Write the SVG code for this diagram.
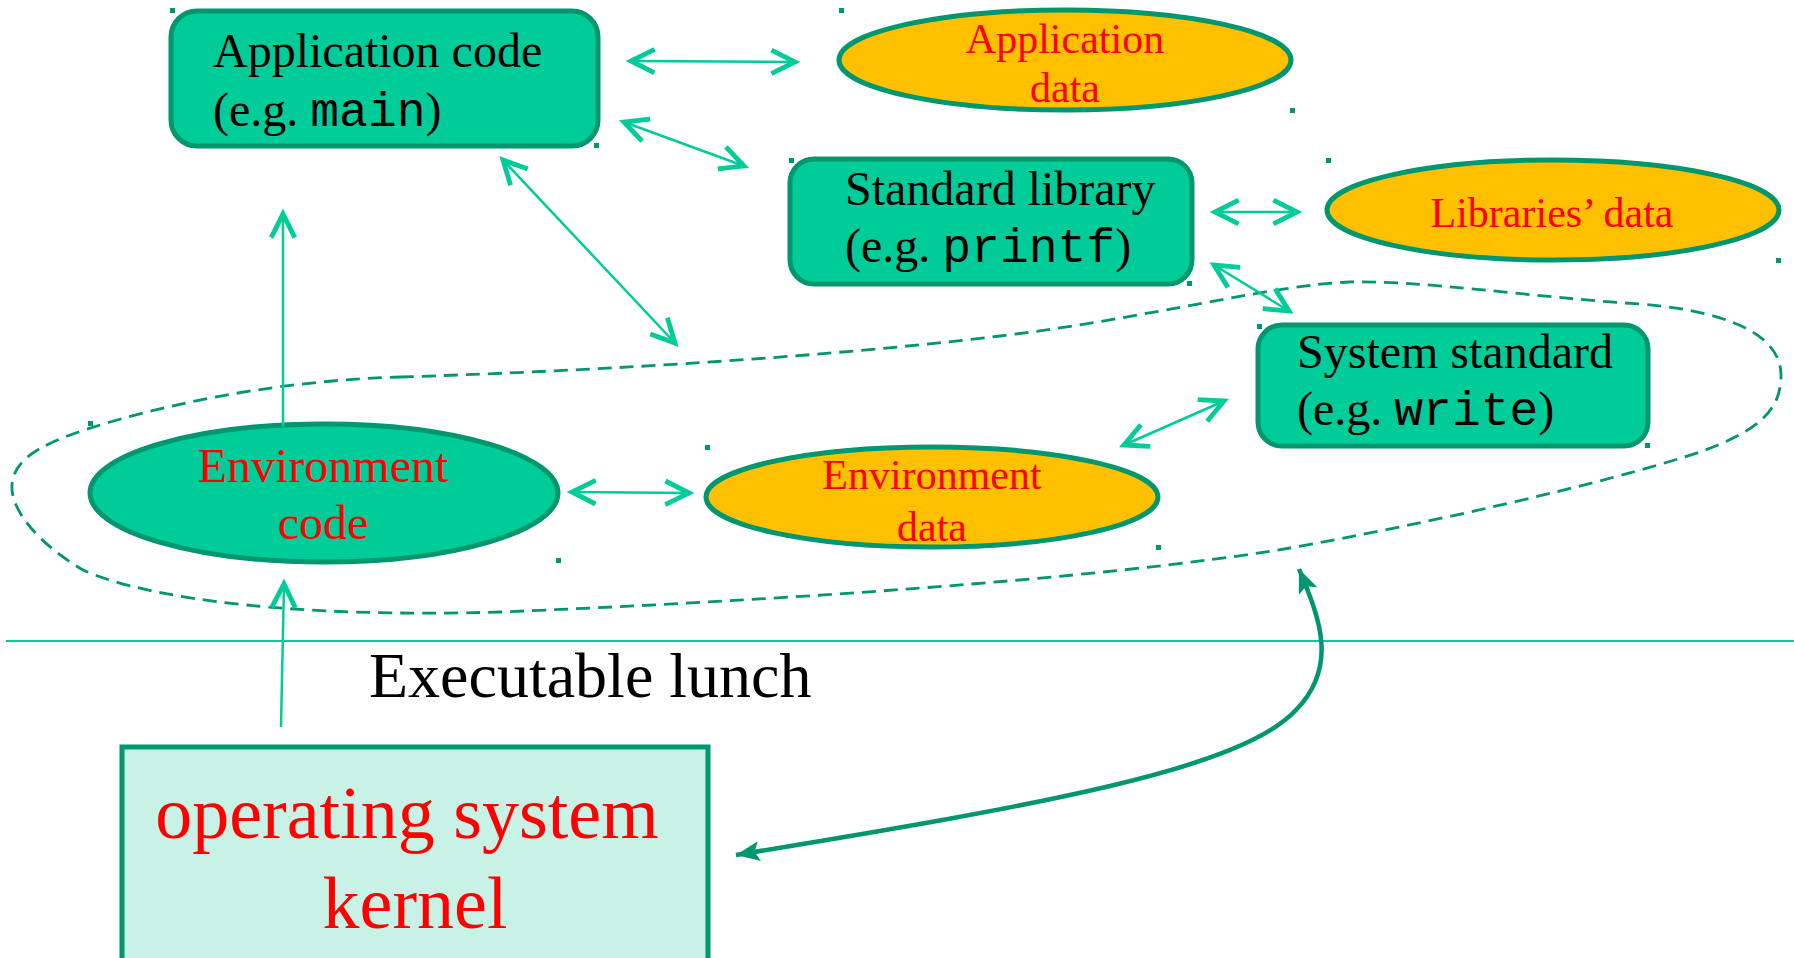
<svg xmlns="http://www.w3.org/2000/svg" width="1794" height="958" viewBox="0 0 1794 958">
<style>
.box{fill:#00CC99;stroke:#00966E;stroke-width:5}
.data{fill:#FFC000;stroke:#00966E;stroke-width:5}
.code{fill:#00CC99;stroke:#00966E;stroke-width:5}
.t{font-family:"Liberation Serif","Times New Roman",serif;font-size:48px;fill:#000}
.m{font-family:"Liberation Mono","Courier New",monospace;font-size:48px}
.r{font-family:"Liberation Serif","Times New Roman",serif;fill:#FF0000;text-anchor:middle}
.thin{stroke:#00CC99;stroke-width:2.5;fill:none;marker-start:url(#chev);marker-end:url(#chev)}
.dot{fill:#00966E}
</style>
<defs>
<marker id="chev" markerUnits="userSpaceOnUse" markerWidth="30" markerHeight="30" viewBox="-2 -14 26 28" refX="0" refY="0" orient="auto-start-reverse" overflow="visible">
<path d="M-22,-11 L0,0 L-22,11" fill="none" stroke="#00CC99" stroke-width="4.5" stroke-linejoin="miter"/>
</marker>
<marker id="tri" markerUnits="userSpaceOnUse" markerWidth="30" markerHeight="30" viewBox="-20 -10 24 20" refX="0" refY="0" orient="auto-start-reverse" overflow="visible">
<path d="M-19,-8 L0,0 L-19,8 L-15,0 Z" fill="#00966E"/>
</marker>
</defs>

<g id="dashed-boundary">
<path d="M 400 377 C 560 372, 800 360, 1000 336 C 1150 318, 1270 285, 1350 282 C 1420 280, 1530 297, 1640 304 C 1740 312, 1781 340, 1781 375 C 1781 410, 1760 430, 1700 452 C 1600 485, 1420 525, 1290 548 C 1100 580, 750 602, 500 612 C 300 618, 150 600, 83 570 C 40 545, 10 510, 12 485 C 14 455, 50 440, 110 422 C 200 396, 300 380, 400 377 Z" fill="none" stroke="#00966E" stroke-width="2.8" stroke-dasharray="14 8"/>
</g>

<line id="divider" x1="6" y1="641" x2="1794" y2="641" stroke="#00CC99" stroke-width="2"/>

<g id="app-code">
<rect class="box" x="171" y="11" width="427" height="135" rx="26"/>
<text class="t" x="213" y="67">Application code</text>
<text class="t" x="213" y="126">(e.g. <tspan class="m">main</tspan>)</text>
</g>

<g id="app-data">
<ellipse class="data" cx="1065" cy="60" rx="226" ry="50"/>
<text class="r" x="1065" y="53" font-size="42">Application</text>
<text class="r" x="1065" y="102" font-size="42">data</text>
</g>

<g id="std-lib">
<rect class="box" x="790" y="159" width="402" height="125" rx="24"/>
<text class="t" x="845" y="205">Standard library</text>
<text class="t" x="845" y="262">(e.g. <tspan class="m">printf</tspan>)</text>
</g>

<g id="lib-data">
<ellipse class="data" cx="1553" cy="210" rx="226" ry="50"/>
<text class="r" x="1552" y="227" font-size="42">Libraries’ data</text>
</g>

<g id="sys-std">
<rect class="box" x="1258" y="325" width="390" height="121" rx="24"/>
<text class="t" x="1297" y="368">System standard</text>
<text class="t" x="1297" y="425">(e.g. <tspan class="m">write</tspan>)</text>
</g>

<g id="env-code">
<ellipse class="code" cx="324" cy="493" rx="234" ry="69"/>
<text class="r" x="323" y="482" font-size="48">Environment</text>
<text class="r" x="323" y="539" font-size="48">code</text>
</g>

<g id="env-data">
<ellipse class="data" cx="932" cy="497" rx="226" ry="50"/>
<text class="r" x="932" y="489" font-size="42">Environment</text>
<text class="r" x="932" y="541" font-size="42">data</text>
</g>

<g id="exec-label">
<text x="369" y="697" font-family="Liberation Serif, Times New Roman, serif" font-size="64" fill="#000">Executable lunch</text>
</g>

<g id="kernel">
<rect x="122" y="747" width="586" height="230" fill="#C8F2E6" stroke="#00966E" stroke-width="5"/>
<text class="r" x="407" y="838" font-size="74">operating system</text>
<text class="r" x="415" y="928" font-size="74">kernel</text>
</g>

<g id="connectors">
<line class="thin" x1="631" y1="61" x2="795" y2="62"/>
<line class="thin" x1="624" y1="122" x2="744" y2="166"/>
<line class="thin" x1="503" y1="160" x2="675" y2="343"/>
<line class="thin" x1="572" y1="492" x2="689" y2="493"/>
<line class="thin" x1="1124" y1="445" x2="1224" y2="401"/>
<line class="thin" x1="1215" y1="212" x2="1297" y2="212"/>
<line class="thin" x1="1214" y1="265" x2="1289" y2="311"/>
<line x1="283" y1="427" x2="283" y2="214" stroke="#00CC99" stroke-width="2.5" marker-end="url(#chev)"/>
<line x1="281" y1="727" x2="284" y2="584" stroke="#00CC99" stroke-width="2.5" marker-end="url(#chev)"/>
<path d="M 1299 569 C 1318 615, 1340 665, 1296 710 C 1240 770, 1040 805, 736 855" fill="none" stroke="#00966E" stroke-width="4.5" marker-start="url(#tri)" marker-end="url(#tri)"/>
</g>

<g id="handles">
<rect class="dot" x="170" y="8" width="5" height="5"/>
<rect class="dot" x="594" y="143" width="5" height="5"/>
<rect class="dot" x="839" y="8" width="5" height="5"/>
<rect class="dot" x="1290" y="108" width="5" height="5"/>
<rect class="dot" x="789" y="158" width="5" height="5"/>
<rect class="dot" x="1187" y="281" width="5" height="5"/>
<rect class="dot" x="1326" y="158" width="5" height="5"/>
<rect class="dot" x="1776" y="258" width="5" height="5"/>
<rect class="dot" x="1257" y="324" width="5" height="5"/>
<rect class="dot" x="1645" y="443" width="5" height="5"/>
<rect class="dot" x="88" y="421" width="5" height="5"/>
<rect class="dot" x="556" y="558" width="5" height="5"/>
<rect class="dot" x="705" y="445" width="5" height="5"/>
<rect class="dot" x="1156" y="545" width="5" height="5"/>
</g>
</svg>
